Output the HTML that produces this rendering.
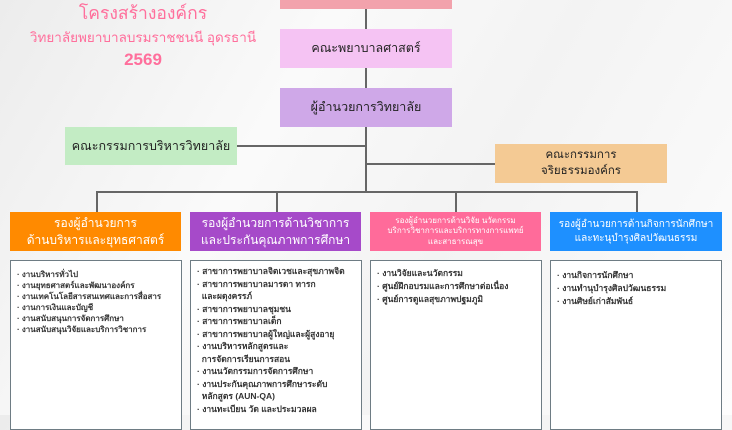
<!DOCTYPE html>
<html><head><meta charset="utf-8"><style>
body{margin:0;width:732px;height:415px;overflow:hidden;background:linear-gradient(120deg,#ececec 0%,#fafafa 35%,#f3f3f3 60%,#fdfdfd 100%);font-family:"Liberation Sans","Noto Sans CJK SC",sans-serif;position:relative}
.a{position:absolute;box-sizing:border-box}
.b{display:flex;align-items:center;justify-content:center;text-align:center;line-height:1.35}
.l{background:#666}
.c{background:#fff;border:1.5px solid #6e7c84;font-size:8.5px;color:#333;font-weight:bold;line-height:13px;padding:8px 4px 0 6px}
.c div{white-space:nowrap}
.t{color:#ff6f9c;text-align:center;width:286px;left:0}
</style></head><body>
<div class="a t" style="top:-1px;font-size:17.5px">โครงสร้างองค์กร</div>
<div class="a t" style="top:26px;font-size:13.5px">วิทยาลัยพยาบาลบรมราชชนนี อุดรธานี</div>
<div class="a t" style="top:50px;font-size:17px;font-weight:bold">2569</div>

<div class="a l" style="left:365px;top:0;width:1.5px;height:192px"></div>
<div class="a l" style="left:237px;top:145px;width:129px;height:1.5px"></div>
<div class="a l" style="left:366px;top:163px;width:129px;height:1.5px"></div>
<div class="a l" style="left:96px;top:191px;width:541px;height:1.5px"></div>
<div class="a l" style="left:96px;top:191px;width:1.5px;height:21px"></div>
<div class="a l" style="left:276px;top:191px;width:1.5px;height:21px"></div>
<div class="a l" style="left:455px;top:191px;width:1.5px;height:21px"></div>
<div class="a l" style="left:636px;top:191px;width:1.5px;height:21px"></div>

<div class="a" style="left:280px;top:0;width:172px;height:9px;background:#f2a2ac"></div>
<div class="a b" style="left:280px;top:29px;width:172px;height:39px;background:#f5c3f3;font-size:12.5px;color:#222">คณะพยาบาลศาสตร์</div>
<div class="a b" style="left:280px;top:88px;width:172px;height:39px;background:#cfa8e8;font-size:12.5px;color:#222">ผู้อำนวยการวิทยาลัย</div>
<div class="a b" style="left:65px;top:127px;width:172px;height:38px;background:#c3ecc4;font-size:12.5px;color:#222">คณะกรรมการบริหารวิทยาลัย</div>
<div class="a b" style="left:495px;top:144px;width:172px;height:39px;background:#f4ca94;font-size:11.5px;color:#222">คณะกรรมการ<br>จริยธรรมองค์กร</div>

<div class="a b" style="left:10px;top:212px;width:171px;height:39px;background:#ff8a00;color:#fff;font-size:12px">รองผู้อำนวยการ<br>ด้านบริหารและยุทธศาสตร์</div>
<div class="a b" style="left:190px;top:212px;width:171px;height:39px;background:#a64ac9;color:#fff;font-size:12px">รองผู้อำนวยการด้านวิชาการ<br>และประกันคุณภาพการศึกษา</div>
<div class="a b" style="left:370px;top:212px;width:171px;height:39px;background:#ff6b9a;color:#fff;font-size:8px;line-height:1.3">รองผู้อำนวยการด้านวิจัย นวัตกรรม<br>บริการวิชาการและบริการทางการแพทย์<br>และสาธารณสุข</div>
<div class="a b" style="left:550px;top:212px;width:172px;height:39px;background:#1e90ff;color:#fff;font-size:10px">รองผู้อำนวยการด้านกิจการนักศึกษา<br>และทะนุบำรุงศิลปวัฒนธรรม</div>

<div class="a c" style="left:10px;top:260px;width:172px;height:170px;padding-top:8px;line-height:11px;font-size:8px">
<div>· งานบริหารทั่วไป</div><div>· งานยุทธศาสตร์และพัฒนาองค์กร</div><div>· งานเทคโนโลยีสารสนเทศและการสื่อสาร</div><div>· งานการเงินและบัญชี</div><div>· งานสนับสนุนการจัดการศึกษา</div><div>· งานสนับสนุนวิจัยและบริการวิชาการ</div></div>
<div class="a c" style="left:190px;top:260px;width:172px;height:170px;padding-top:4px;line-height:12.5px">
<div>· สาขาการพยาบาลจิตเวชและสุขภาพจิต</div><div>· สาขาการพยาบาลมารดา ทารก</div><div>&nbsp;&nbsp;และผดุงครรภ์</div><div>· สาขาการพยาบาลชุมชน</div><div>· สาขาการพยาบาลเด็ก</div><div>· สาขาการพยาบาลผู้ใหญ่และผู้สูงอายุ</div><div>· งานบริหารหลักสูตรและ</div><div>&nbsp;&nbsp;การจัดการเรียนการสอน</div><div>· งานนวัตกรรมการจัดการศึกษา</div><div>· งานประกันคุณภาพการศึกษาระดับ</div><div>&nbsp;&nbsp;หลักสูตร (AUN-QA)</div><div>· งานทะเบียน วัด และประมวลผล</div></div>
<div class="a c" style="left:370px;top:260px;width:172px;height:170px;padding-top:6px">
<div>· งานวิจัยและนวัตกรรม</div><div>· ศูนย์ฝึกอบรมและการศึกษาต่อเนื่อง</div><div>· ศูนย์การดูแลสุขภาพปฐมภูมิ</div></div>
<div class="a c" style="left:550px;top:260px;width:172px;height:170px;padding-top:8px">
<div>· งานกิจการนักศึกษา</div><div>· งานทำนุบำรุงศิลปวัฒนธรรม</div><div>· งานศิษย์เก่าสัมพันธ์</div></div>
</body></html>
